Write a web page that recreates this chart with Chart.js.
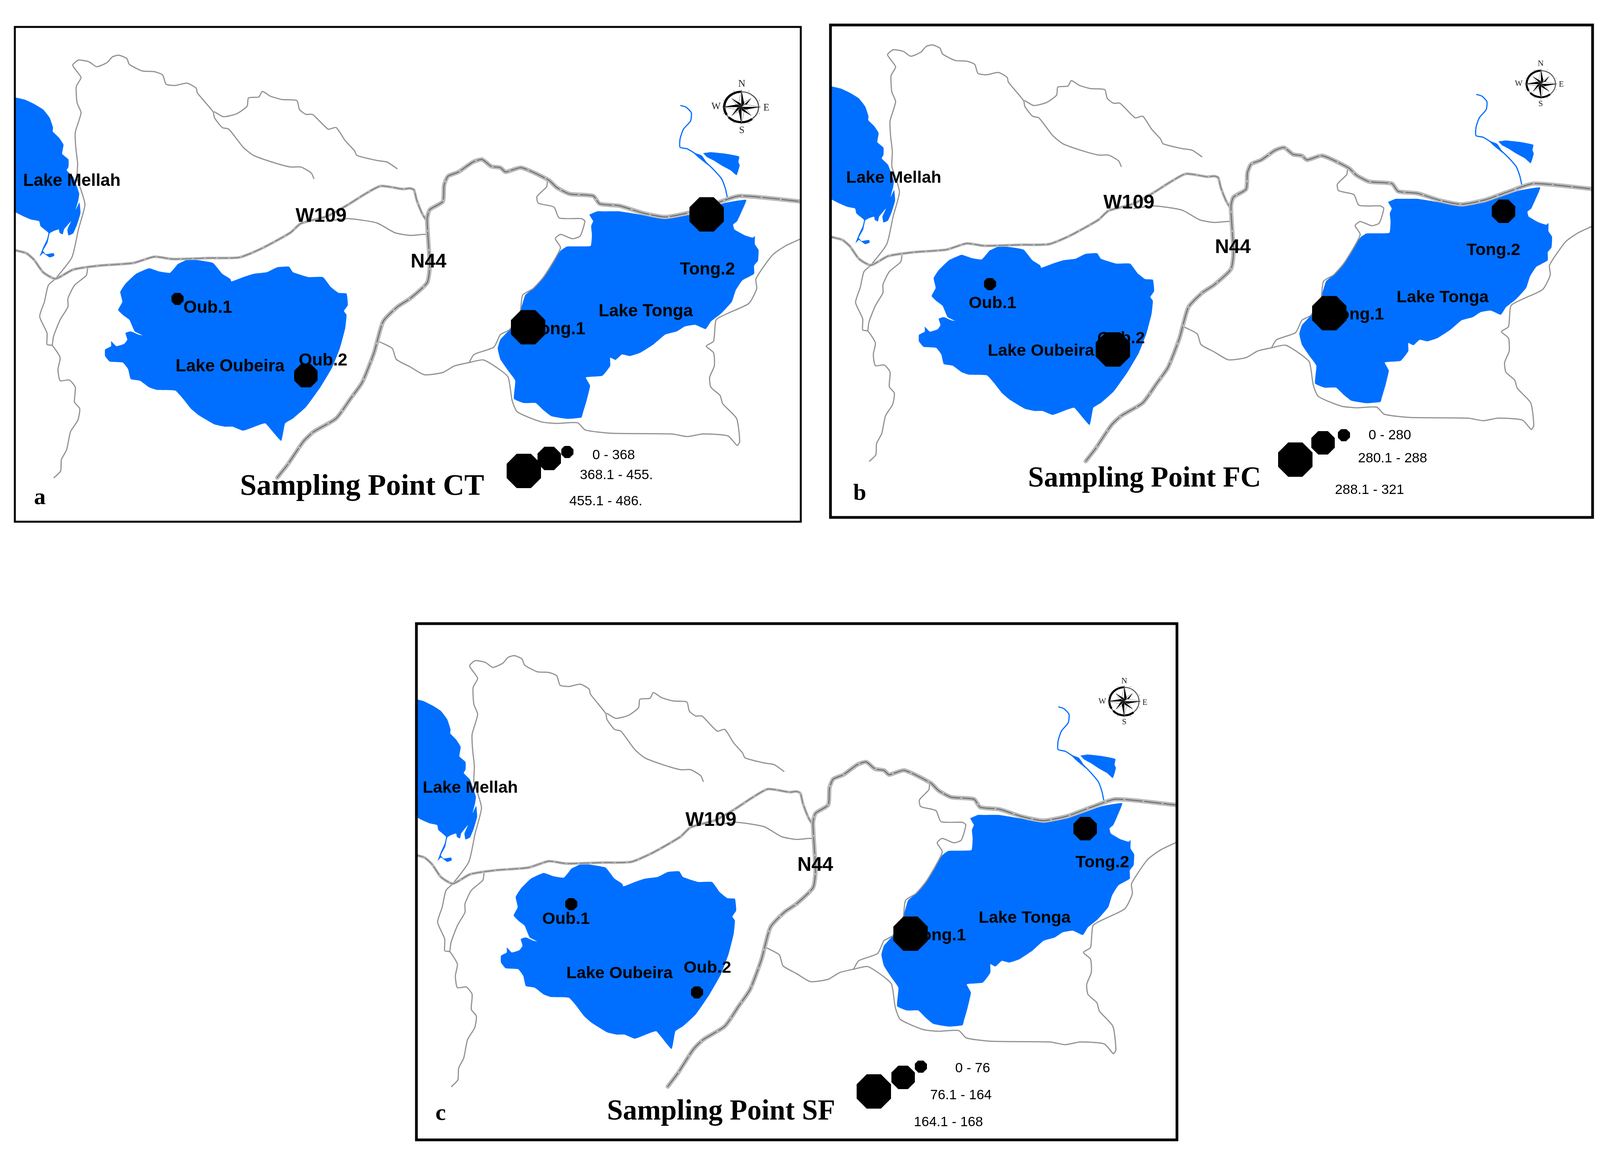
<!DOCTYPE html>
<html>
<head>
<meta charset="utf-8">
<title>Sampling points</title>
<script src="https://cdn.jsdelivr.net/npm/chart.js@4"></script>
<style>
html, body { margin: 0; background: #fff; width: 4124px; height: 2968px; overflow: hidden; }
canvas { position: absolute; }
</style>
</head>
<body>
<canvas id="panelA"></canvas>
<canvas id="panelB"></canvas>
<canvas id="panelC"></canvas>
<script>
// MAP OUTLINES (map units, same base map for all three panels)
const lakeMellah = [[57,248],[95,255],[130,268],[165,285],[190,310],[203,340],[202,352],[225,370],[243,392],[238,420],[262,437],[262,460],[255,470],[280,490],[303,540],[300,560],[290,590],[304,568],[308,600],[295,635],[280,662],[262,668],[258,650],[272,625],[245,650],[240,665],[228,660],[225,650],[205,655],[190,662],[182,690],[165,715],[175,725],[205,722],[208,730],[190,735],[165,722],[152,732],[165,705],[180,680],[185,660],[155,640],[150,625],[120,620],[90,610],[57,597]];
const lakeOubeira = [[720,740],[770,745],[815,752],[850,785],[880,800],[885,808],[930,795],[970,785],[1020,780],[1060,765],[1105,763],[1120,780],[1180,795],[1235,795],[1265,825],[1295,843],[1325,845],[1330,880],[1315,898],[1325,910],[1320,950],[1300,1010],[1270,1070],[1225,1130],[1170,1190],[1120,1225],[1090,1240],[1075,1293],[1015,1240],[990,1245],[930,1262],[890,1250],[860,1250],[820,1243],[760,1215],[730,1195],[700,1165],[670,1140],[600,1138],[570,1130],[535,1110],[500,1105],[490,1075],[470,1055],[420,1052],[402,1035],[402,1015],[425,1005],[425,990],[445,1005],[475,998],[487,985],[480,965],[500,960],[530,970],[545,972],[515,960],[495,925],[470,910],[452,895],[468,870],[460,840],[480,815],[520,785],[570,768],[610,778],[650,782],[680,755]];
const lakeTonga = [[2253,605],[2283,595],[2308,595],[2368,595],[2448,605],[2543,618],[2638,605],[2768,570],[2853,560],[2833,600],[2818,625],[2803,635],[2808,650],[2848,668],[2878,675],[2886,670],[2886,695],[2900,712],[2898,745],[2883,760],[2883,785],[2838,805],[2813,835],[2798,870],[2758,905],[2718,930],[2698,953],[2658,940],[2618,945],[2588,960],[2543,970],[2498,1000],[2448,1025],[2408,1035],[2378,1030],[2353,1047],[2333,1040],[2333,1065],[2303,1095],[2240,1100],[2256,1125],[2243,1170],[2228,1210],[2223,1222],[2168,1226],[2108,1218],[2078,1200],[2048,1178],[2003,1178],[1965,1165],[1970,1110],[1943,1080],[1913,1045],[1903,1012],[1913,985],[1948,955],[1988,900],[2008,850],[2038,830],[2078,795],[2118,745],[2143,715],[2168,702],[2258,700],[2263,665],[2260,640],[2268,625]];
const pondNorth = [[2688,418],[2718,415],[2778,420],[2826,428],[2823,445],[2828,455],[2816,485],[2793,470],[2758,455],[2728,440],[2703,430]];
const pondWedge = [[2648,415],[2683,425],[2708,455],[2668,430]];
const riverNorth = [[2603,273],[2623,278],[2643,295],[2640,320],[2613,345],[2600,375],[2600,400],[2628,405],[2668,425],[2718,460],[2758,495],[2773,525],[2780,550]];

const roadW109 = [[57,713],[100,722],[130,742],[165,780],[212,800],[280,772],[380,760],[510,752],[590,733],[660,740],[800,737],[915,735],[1000,708],[1110,660],[1150,632],[1250,610],[1330,575],[1390,545],[1455,518],[1540,527],[1568,525],[1583,530],[1593,560],[1613,600],[1628,620]];
const roadN44 = [[1060,1405],[1100,1365],[1160,1295],[1200,1265],[1285,1225],[1340,1165],[1385,1115],[1430,1025],[1465,930],[1520,885],[1568,860],[1633,812],[1643,760],[1633,620],[1643,590],[1693,565],[1698,515],[1713,488],[1753,475],[1808,445],[1843,437],[1878,458],[1913,462],[1933,475],[1993,462],[2098,500],[2128,522],[2178,542],[2268,548],[2293,572],[2368,578],[2458,600],[2543,612],[2638,598],[2738,570],[2828,548],[3063,565]];
const trackWest = [[1200,495],[1190,478],[1150,460],[1110,460],[1040,445],[970,425],[930,400],[875,345],[850,340],[820,310],[815,292],[755,235],[750,220],[715,205],[670,212],[635,208],[622,180],[590,170],[545,168],[495,148],[485,130],[455,120],[430,125],[410,142],[370,155],[340,140],[300,135],[278,150],[290,165],[310,188],[292,215],[295,265],[310,295],[288,355],[290,400],[297,450],[295,495],[310,530],[325,575],[300,650],[275,735],[212,800],[185,820],[170,870],[152,915],[180,965],[180,1000],[200,1003],[230,1040],[222,1075],[230,1110],[265,1108],[288,1130],[285,1175],[305,1195],[298,1230],[270,1265],[255,1320],[235,1350],[232,1385],[207,1405]];
const trackNorth = [[820,292],[855,307],[905,298],[945,275],[950,250],[990,247],[1003,230],[1035,245],[1080,255],[1135,258],[1145,285],[1170,300],[1195,300],[1255,345],[1285,340],[1320,380],[1355,410],[1365,425],[1440,440],[1480,445],[1518,465]];
const trackSouthWest = [[335,770],[330,790],[285,820],[260,860],[260,885],[230,925],[205,975],[200,1003]];
const trackSpur = [[1250,625],[1330,617],[1440,630],[1510,660],[1568,668],[1618,665],[1640,665]];
const trackSouth = [[1452,992],[1500,1012],[1515,1045],[1568,1068],[1623,1092],[1693,1085],[1738,1065],[1793,1055],[1848,1047],[1908,1075],[1943,1100],[1958,1170],[1978,1205],[2068,1235],[2128,1240],[2208,1238],[2238,1260],[2338,1270],[2568,1272],[2628,1280],[2688,1272],[2783,1278],[2818,1307],[2828,1295],[2816,1225],[2763,1180],[2753,1155],[2718,1130],[2713,1100],[2731,1065],[2728,1025],[2700,1005],[2728,990],[2738,925],[2783,905],[2863,875],[2893,830],[2890,800],[2953,728],[3003,700],[3063,678]];
const trackTonga = [[1793,1055],[1813,1030],[1888,1008],[1913,970],[1948,955],[1988,905],[1998,850],[2038,830],[2078,795],[2118,745],[2143,705],[2123,678],[2143,665],[2188,678],[2218,670],[2236,625],[2223,617],[2138,615],[2118,582],[2058,570],[2053,550],[2090,520],[2093,500]];

// SAMPLING POINTS (picture coordinates), class = index into markerSizes
const stationNames = ["Oub.1", "Oub.2", "Tong.1", "Tong.2"];
const stationXA = [454, 783, 1352, 1809];
const stationYA = [765, 962, 838, 549];
const stationClassA = [0, 1, 2, 2];
const stationXB = [2534, 2849, 3403, 3849];
const stationYB = [727, 895, 802, 541];
const stationClassB = [0, 2, 2, 1];
const stationXC = [1462, 1784, 2331, 2778];
const stationYC = [2315, 2541, 2391, 2122];
const stationClassC = [0, 0, 2, 1];

// LEGEND
const legendRangesA = ["0 - 368", "368.1 - 455.", "455.1 - 486."];
const legendRangesB = ["0 - 280", "280.1 - 288", "288.1 - 321"];
const legendRangesC = ["0 - 76", "76.1 - 164", "164.1 - 168"];
const legendClass = [0, 1, 2];
const markerSizes = [31, 60, 88];

const blue = "#006FFF";
const trackGrey = "#929292";

function octagon(size){
    let c = document.createElement("canvas");
    c.width = size;
    c.height = size;
    let g = c.getContext("2d");
    let a = size * 0.293;
    let b = size - a;
    g.fillStyle = "#000";
    g.beginPath();
    [[a,0],[b,0],[size,a],[size,b],[b,size],[a,size],[0,b],[0,a]].forEach(p => g.lineTo(p[0], p[1]));
    g.closePath();
    g.fill();
    return c;
}
const markerImages = markerSizes.map(octagon);

function toPoints(list){
    return list.map(p => ({x: p[0], y: p[1]}));
}

function polygon(list){
    return {data: toPoints(list), showLine: true, pointRadius: 0, borderWidth: 0, borderColor: blue, backgroundColor: blue, fill: "shape", tension: 0.12};
}

function path(list, color, width, dash){
    return {data: toPoints(list), showLine: true, pointRadius: 0, borderWidth: width, borderColor: color, borderDash: dash || [], fill: false, tension: 0.2, borderJoinStyle: "round", borderCapStyle: dash ? "butt" : "round"};
}

function drawCompass(ctx, c){
    ctx.save();
    ctx.translate(c.x, c.y);
    ctx.scale(c.rx, c.ry);
    ctx.lineJoin = "miter";

    ctx.beginPath();
    ctx.arc(0, 0, 1, 0, Math.PI * 2);
    ctx.lineWidth = 0.07;
    ctx.strokeStyle = "#555";
    ctx.stroke();

    ctx.lineWidth = 0.14;
    ctx.strokeStyle = "#000";
    ctx.beginPath();
    ctx.arc(0, 0, 1, 2.6, 4.7);
    ctx.stroke();
    ctx.beginPath();
    ctx.arc(0, 0, 1, 0.9, 2.4);
    ctx.stroke();

    ctx.fillStyle = "#888";
    for(let i = 0; i < 8; i++){
        let a = Math.PI / 8 + i * Math.PI / 4;
        ctx.fillRect(Math.cos(a) * 1.13 - 0.025, Math.sin(a) * 1.13 - 0.025, 0.05, 0.05);
    }

    for(let i = 7; i >= 0; i--){
        ctx.save();
        ctx.rotate(i * Math.PI / 4);
        let tip = (i % 2 == 0) ? 1.12 : 0.8;
        let side = (i % 2 == 0) ? 0.17 : 0.14;
        ctx.beginPath();
        ctx.moveTo(0, 0);
        ctx.lineTo(tip, 0);
        ctx.lineTo(side * 1.3, -side);
        ctx.closePath();
        ctx.fillStyle = "#fff";
        ctx.fill();
        ctx.lineWidth = 0.02;
        ctx.strokeStyle = "#555";
        ctx.stroke();
        ctx.beginPath();
        ctx.moveTo(0, 0);
        ctx.lineTo(tip, 0);
        ctx.lineTo(side * 1.3, side);
        ctx.closePath();
        ctx.fillStyle = "#000";
        ctx.fill();
        ctx.restore();
    }
    ctx.restore();
}

function createPanel(p){
    const pad = 12;
    const canvas = document.getElementById(p.id);
    const [left, top, right, bottom] = p.frame;
    canvas.width = right - left + pad * 2;
    canvas.height = bottom - top + pad * 2;
    canvas.style.left = (left - pad) + "px";
    canvas.style.top = (top - pad) + "px";

    const mapDecor = {
        id: "mapDecor",
        beforeDatasetDraw(chart, args){
            if(chart.data.datasets[args.index].label != "stations") return;
            const ctx = chart.ctx;
            const sx = chart.scales.px;
            const sy = chart.scales.py;
            ctx.save();
            ctx.fillStyle = "#000";
            ctx.textAlign = "center";
            ctx.textBaseline = "middle";
            p.texts.forEach(t => {
                ctx.font = t[3];
                ctx.fillText(t[0], sx.getPixelForValue(t[1]), sy.getPixelForValue(t[2]));
            });
            ctx.restore();
        },
        afterDraw(chart){
            const ctx = chart.ctx;
            const a = chart.chartArea;
            const sx = chart.scales.px;
            const sy = chart.scales.py;
            ctx.save();
            ctx.strokeStyle = "#000";
            ctx.lineWidth = p.frameWidth;
            ctx.strokeRect(a.left, a.top, a.right - a.left, a.bottom - a.top);
            drawCompass(ctx, {x: sx.getPixelForValue(p.compass[0]), y: sy.getPixelForValue(p.compass[1]), rx: p.compass[2], ry: p.compass[3]});
            ctx.fillStyle = "#222";
            ctx.textAlign = "center";
            ctx.textBaseline = "middle";
            ctx.font = p.compass[4] + 'px "Liberation Serif"';
            p.compassLetters.forEach(t => {
                ctx.fillText(t[0], sx.getPixelForValue(t[1]), sy.getPixelForValue(t[2]));
            });
            ctx.restore();
        }
    };

    const datasets = [
        polygon(lakeMellah),
        polygon(lakeOubeira),
        polygon(lakeTonga),
        polygon(pondNorth),
        polygon(pondWedge),
        path(riverNorth, blue, 3),
        path(trackWest, trackGrey, 3),
        path(trackNorth, trackGrey, 3),
        path(trackSouthWest, trackGrey, 3),
        path(trackSpur, trackGrey, 3),
        path(trackSouth, trackGrey, 3),
        path(trackTonga, trackGrey, 3),
        path(roadW109, "#b9b9b9", 7),
        path(roadW109, "#666666", 1.5, [26, 5]),
        path(roadN44, "#b9b9b9", 11),
        path(roadN44, "#5a5a5a", 2, [44, 5]),
        {
            label: "legend",
            data: legendClass.map((k, i) => ({x: p.legendX[i], y: p.legendY[i]})),
            xAxisID: "px", yAxisID: "py",
            showLine: false,
            pointStyle: legendClass.map(k => markerImages[k])
        },
        {
            label: "stations",
            data: p.stationX.map((v, i) => ({x: v, y: p.stationY[i]})),
            xAxisID: "px", yAxisID: "py",
            showLine: false,
            pointStyle: p.stationClass.map(k => markerImages[k])
        }
    ];
    // lower order is painted on top, keep the list above in painting order
    datasets.forEach((d, i) => { d.order = datasets.length - i; });

    return new Chart(canvas.getContext("2d"), {
        type: "scatter",
        data: {datasets: datasets},
        plugins: [mapDecor],
        options: {
            responsive: false,
            animation: false,
            devicePixelRatio: 1,
            layout: {padding: pad},
            events: [],
            plugins: {legend: {display: false}, title: {display: false}, tooltip: {enabled: false}},
            scales: {
                x: {type: "linear", display: false, min: p.mapX[0], max: p.mapX[1]},
                y: {type: "linear", display: false, min: p.mapY[0], max: p.mapY[1], reverse: true},
                px: {type: "linear", axis: "x", display: false, min: left, max: right},
                py: {type: "linear", axis: "y", display: false, min: top, max: bottom, reverse: true}
            }
        }
    });
}

const mapFont = 'bold 44px "Liberation Sans"';
const mapFontSmall = 'bold 43px "Liberation Sans"';
const roadFont = 'bold 50px "Liberation Sans"';
const legendFont = '35px "Liberation Sans"';
const letterFont = 'bold 60px "Liberation Serif"';

createPanel({
    id: "panelA",
    frame: [38, 69, 2050, 1336],
    frameWidth: 5,
    mapX: [57, 3061.5],
    mapY: [34, 1539],
    stationX: stationXA, stationY: stationYA, stationClass: stationClassA,
    legendX: [1452, 1406, 1341], legendY: [1157, 1174, 1206],
    compass: [1898, 274, 44, 39, 25],
    compassLetters: [["N", 1899, 215], ["S", 1899, 334], ["W", 1833, 273], ["E", 1962, 276]],
    texts: [
        ["Lake Mellah", 184, 464, mapFont],
        ["Lake Oubeira", 589, 939, mapFont],
        ["Lake Tonga", 1653, 798, mapFont],
        [stationNames[0], 532, 789, mapFont],
        [stationNames[1], 827, 924, mapFont],
        [stationNames[2], 1428, 844, mapFont],
        [stationNames[3], 1811, 691, mapFont],
        ["W109", 822, 554, roadFont],
        ["N44", 1097, 671, roadFont],
        [legendRangesA[0], 1571, 1166, legendFont],
        [legendRangesA[1], 1578, 1217, legendFont],
        [legendRangesA[2], 1551, 1284, legendFont],
        ["Sampling Point CT", 927, 1247, 'bold 76px "Liberation Serif"'],
        ["a", 102, 1275, letterFont]
    ]
});

createPanel({
    id: "panelB",
    frame: [2126, 64, 4077, 1325],
    frameWidth: 7,
    mapX: [52.9, 3060],
    mapY: [58.5, 1578.5],
    stationX: stationXB, stationY: stationYB, stationClass: stationClassB,
    legendX: [3440, 3387, 3316], legendY: [1114, 1134, 1177],
    compass: [3945, 215, 37, 34, 21],
    compassLetters: [["N", 3944, 163], ["S", 3944, 266], ["W", 3888, 214], ["E", 3997, 216]],
    texts: [
        ["Lake Mellah", 2288, 456, mapFontSmall],
        ["Lake Oubeira", 2665, 899, mapFontSmall],
        ["Lake Tonga", 3693, 762, mapFontSmall],
        [stationNames[0], 2541, 777, mapFontSmall],
        [stationNames[1], 2870, 867, mapFontSmall],
        [stationNames[2], 3474, 806, mapFontSmall],
        [stationNames[3], 3823, 641, mapFontSmall],
        ["W109", 2890, 520, roadFont],
        ["N44", 3156, 634, roadFont],
        [legendRangesB[0], 3558, 1115, legendFont],
        [legendRangesB[1], 3565, 1174, legendFont],
        [legendRangesB[2], 3506, 1255, legendFont],
        ["Sampling Point FC", 2930, 1227, 'bold 73px "Liberation Serif"'],
        ["b", 2201, 1264, letterFont]
    ]
});

createPanel({
    id: "panelC",
    frame: [1066, 1597, 3013, 2919],
    frameWidth: 7,
    mapX: [68.3, 3069],
    mapY: [24.5, 1563.9],
    stationX: stationXC, stationY: stationYC, stationClass: stationClassC,
    legendX: [2357, 2312, 2237], legendY: [2731, 2759, 2795],
    compass: [2878, 1796, 38, 36, 21],
    compassLetters: [["N", 2878, 1744], ["S", 2878, 1849], ["W", 2822, 1796], ["E", 2931, 1799]],
    texts: [
        ["Lake Mellah", 1204, 2018, mapFontSmall],
        ["Lake Oubeira", 1586, 2493, mapFontSmall],
        ["Lake Tonga", 2623, 2351, mapFontSmall],
        [stationNames[0], 1449, 2354, mapFontSmall],
        [stationNames[1], 1811, 2479, mapFontSmall],
        [stationNames[2], 2404, 2396, mapFontSmall],
        [stationNames[3], 2822, 2209, mapFontSmall],
        ["W109", 1820, 2101, roadFont],
        ["N44", 2087, 2216, roadFont],
        [legendRangesC[0], 2490, 2736, legendFont],
        [legendRangesC[1], 2460, 2805, legendFont],
        [legendRangesC[2], 2428, 2874, legendFont],
        ["Sampling Point SF", 1846, 2848, 'bold 73px "Liberation Serif"'],
        ["c", 1128, 2852, letterFont]
    ]
});
</script>
</body>
</html>
